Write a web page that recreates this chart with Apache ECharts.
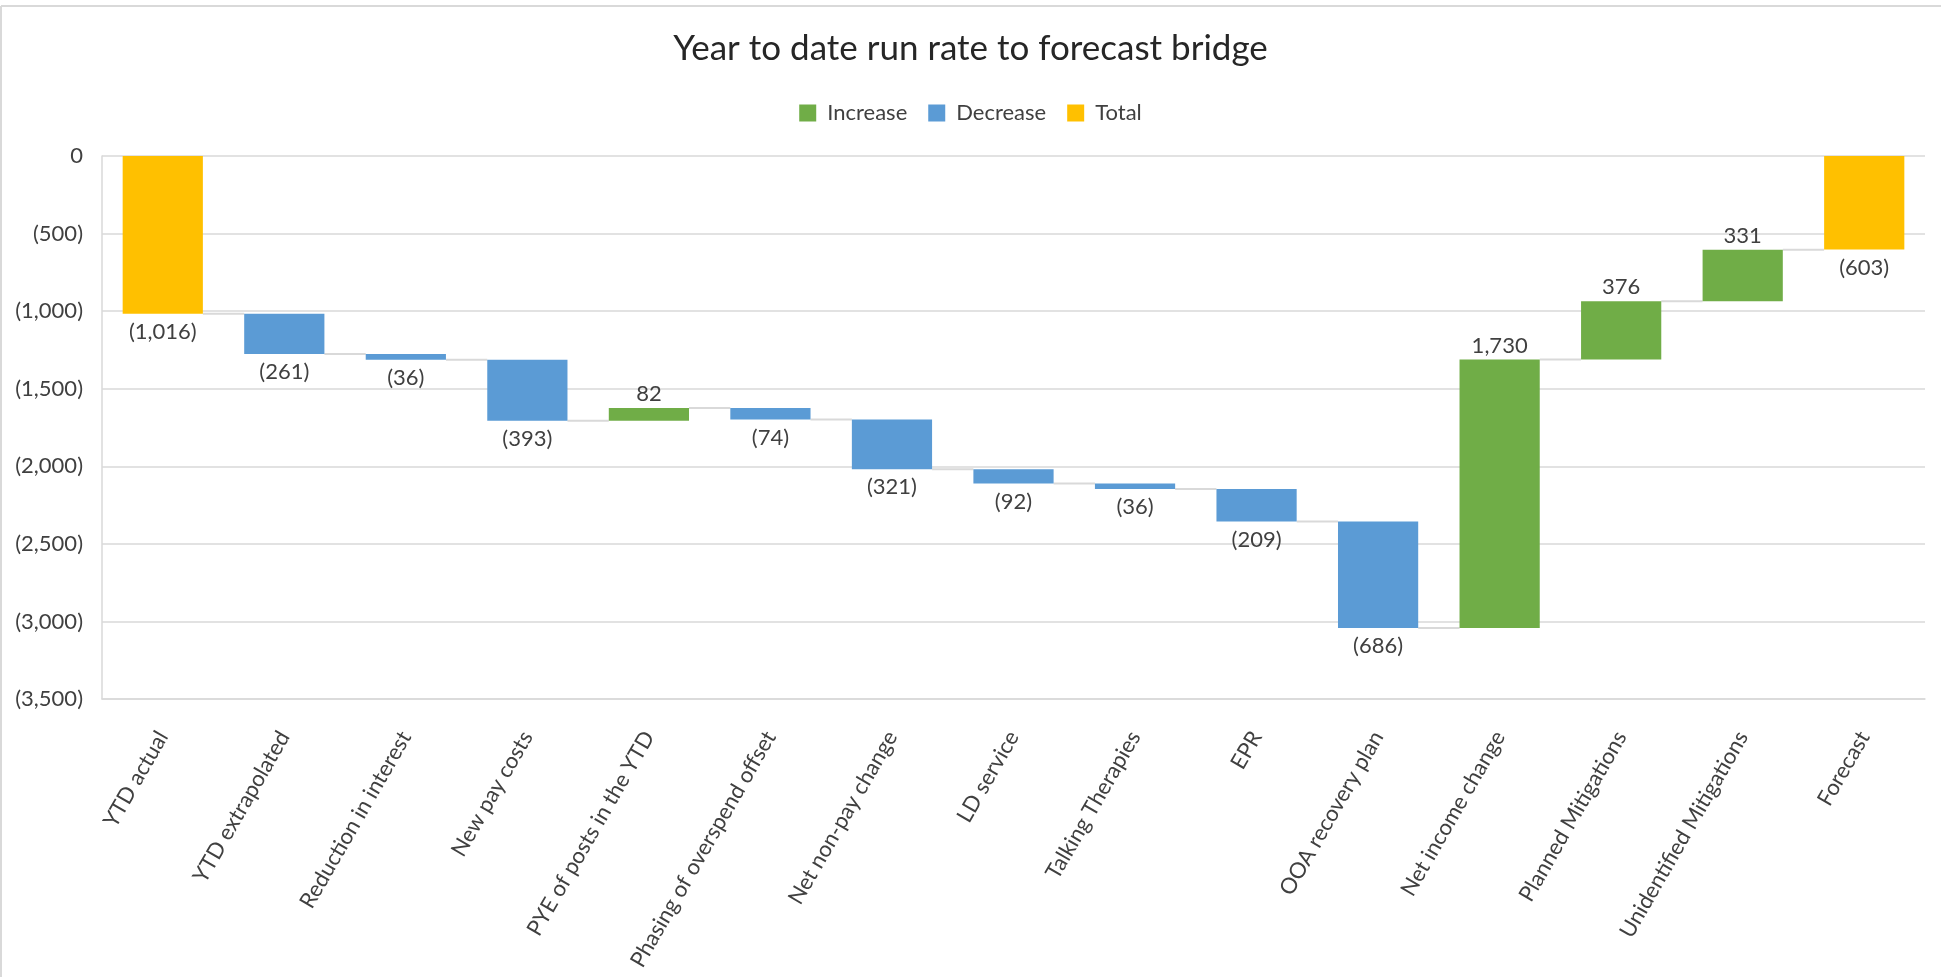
<!DOCTYPE html>
<html>
<head>
<meta charset="utf-8">
<script src="https://cdn.jsdelivr.net/npm/echarts@6/dist/echarts.min.js"></script>
<style>
html,body{margin:0;padding:0;background:#fff;}
#chart{width:1941px;height:977px;}
</style>
</head>
<body>
<div id="chart"></div>
<script>
const categories = ['YTD actual','YTD extrapolated','Reduction in interest','New pay costs','PYE of posts in the YTD','Phasing of overspend offset','Net non-pay change','LD service','Talking Therapies','EPR','OOA recovery plan','Net income change','Planned Mitigations','Unidentified Mitigations','Forecast'];
const amounts = [-1016, -261, -36, -393, 82, -74, -321, -92, -36, -209, -686, 1730, 376, 331, -603];
const isTotal = [true, false, false, false, false, false, false, false, false, false, false, false, false, false, true];
const yTicks = {min: -3500, max: 0, step: 500};

const fmt = v => Math.abs(v).toLocaleString('en-US');
const fmtSigned = v => v < 0 ? '(' + fmt(v) + ')' : fmt(v);

// derive waterfall pieces
const base = [], incData = [], decData = [], totData = [], levels = [];
let running = 0;
amounts.forEach((a, i) => {
  let start, end;
  if (isTotal[i]) { start = 0; end = a; } else { start = running; end = running + a; }
  running = end;
  levels.push(end);
  const top = Math.max(start, end), bottom = Math.min(start, end);
  if (isTotal[i]) {
    base.push('-'); totData.push(a); incData.push('-'); decData.push('-');
  } else if (a >= 0) {
    base.push(top); incData.push(bottom - top); decData.push('-'); totData.push('-');
  } else {
    base.push(top); decData.push(bottom - top); incData.push('-'); totData.push('-');
  }
});
const connectorData = levels.slice(0, levels.length - 1).map((v, i) => [i, v]);

const FONT = 'Lato';
const TXT = '#404040';
const FS = 22;
const chart = echarts.init(document.getElementById('chart'));
chart.setOption({
  animation: false,
  backgroundColor: '#fff',
  textStyle: {fontFamily: FONT},
  graphic: [
    {type: 'line', shape: {x1: 1, y1: 6, x2: 1941, y2: 6}, style: {stroke: '#d9d9d9', lineWidth: 2}},
    {type: 'line', shape: {x1: 1, y1: 6, x2: 1, y2: 977}, style: {stroke: '#d9d9d9', lineWidth: 2}}
  ],
  title: {
    text: 'Year to date run rate to forecast bridge',
    left: 'center', top: 26,
    textStyle: {fontFamily: FONT, fontSize: 35, fontWeight: 'normal', color: '#262626'}
  },
  legend: {
    data: ['Increase', 'Decrease', 'Total'],
    top: 97, left: 'center',
    icon: 'rect', itemWidth: 17, itemHeight: 17, itemGap: 21,
    textStyle: {fontFamily: FONT, fontSize: FS, color: TXT, padding: [0, 0, 0, 6]}
  },
  grid: {left: 102, right: 16, top: 156, bottom: 278, containLabel: false},
  xAxis: {
    type: 'category', data: categories,
    axisTick: {show: false},
    axisLine: {onZero: false, lineStyle: {color: '#d9d9d9', width: 1.5}},
    axisLabel: {interval: 0, rotate: 60, margin: 34, fontSize: FS, color: TXT, fontFamily: FONT}
  },
  yAxis: {
    type: 'value', min: yTicks.min, max: yTicks.max, interval: yTicks.step,
    axisLine: {show: true, lineStyle: {color: '#d9d9d9', width: 1.5}},
    axisTick: {show: false},
    splitLine: {lineStyle: {color: '#d9d9d9', width: 1.5}},
    axisLabel: {margin: 19, fontSize: FS, color: TXT, fontFamily: FONT,
      formatter: v => v === 0 ? '0' : fmtSigned(v)}
  },
  series: [
    {name: 'base', type: 'bar', stack: 'wf', barWidth: '66%', silent: true,
      itemStyle: {color: 'transparent'}, data: base},
    {name: 'Increase', type: 'bar', stack: 'wf', barWidth: '66%',
      itemStyle: {color: '#70AD47'}, data: incData,
      label: {show: true, position: 'top', distance: 3, fontSize: FS, color: TXT, fontFamily: FONT,
        formatter: p => fmtSigned(amounts[p.dataIndex])}},
    {name: 'Decrease', type: 'bar', stack: 'wf', barWidth: '66%',
      itemStyle: {color: '#5B9BD5'}, data: decData,
      label: {show: true, position: 'bottom', distance: 7, fontSize: FS, color: TXT, fontFamily: FONT,
        formatter: p => fmtSigned(amounts[p.dataIndex])}},
    {name: 'Total', type: 'bar', stack: 'wf', barWidth: '66%',
      itemStyle: {color: '#FFC000'}, data: totData,
      label: {show: true, position: 'bottom', distance: 7, fontSize: FS, color: TXT, fontFamily: FONT,
        formatter: p => fmtSigned(amounts[p.dataIndex])}},
    {name: 'connectors', type: 'custom', silent: true, z: 1,
      encode: {x: 0, y: 1},
      data: connectorData,
      renderItem: (params, api) => {
        const i = api.value(0), v = api.value(1);
        const p = api.coord([i, v]);
        const band = api.size([1, 0])[0];
        const hw = band * 0.33;
        return {type: 'line', shape: {x1: p[0] + hw, y1: p[1], x2: p[0] + band - hw, y2: p[1]},
          style: {stroke: '#d9d9d9', lineWidth: 2}};
      }}
  ]
});
</script>
</body>
</html>
